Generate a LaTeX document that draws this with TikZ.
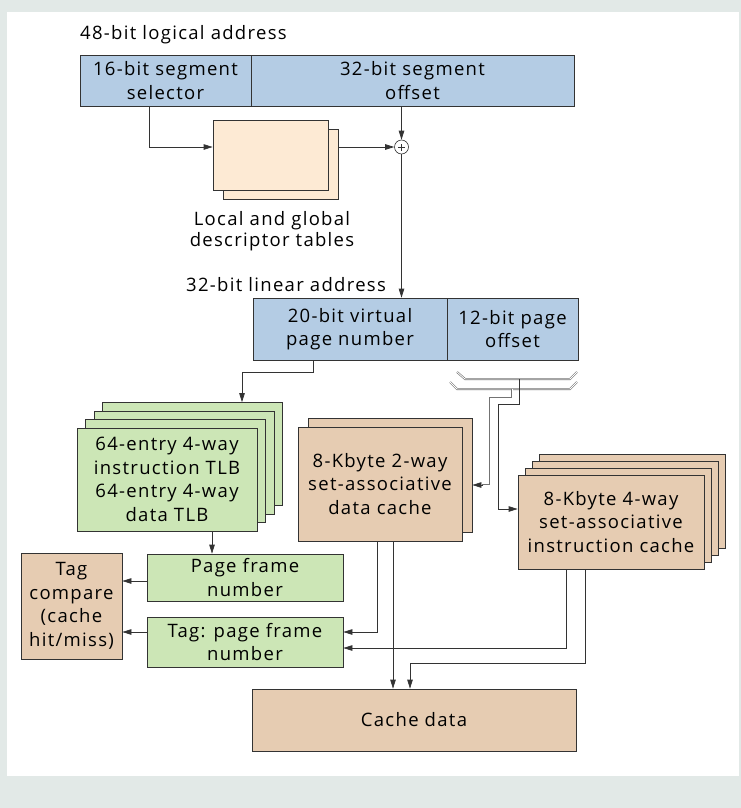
\documentclass[tikz,border=0pt]{standalone}
\usepackage{fontspec}
\setmainfont{Open Sans}[LetterSpace=7]
\usetikzlibrary{arrows.meta}
\definecolor{addrblue}{RGB}{180,204,228}
\definecolor{tlbgreen}{RGB}{204,230,182}
\definecolor{cachetan}{RGB}{230,204,178}
\definecolor{descpeach}{RGB}{253,234,212}
\definecolor{bggrey}{RGB}{226,233,231}
\begin{document}
\begin{tikzpicture}
[x=1pt,y=-1pt,
 >={Triangle[length=9pt,width=5.5pt]},
 box/.style={rectangle,draw=black!80,line width=0.7pt,inner sep=0pt,align=center,font=\fontsize{18.5}{23.5}\selectfont},
 addr/.style={box,fill=addrblue},
 tlbbox/.style={box,fill=tlbgreen},
 cachebox/.style={box,fill=cachetan},
 descbox/.style={box,fill=descpeach,minimum width=115,minimum height=70},
 wire/.style={draw=black!80,line width=0.7pt},
 bus/.style={draw=black!55,double=white,double distance=0.8pt,line width=0.6pt},
 caption/.style={font=\fontsize{18.5}{21}\selectfont,inner sep=0pt,align=center},
 adder/.style={circle,draw=black!80,fill=white,line width=0.6pt,minimum size=14,inner sep=0pt,
   path picture={\draw[line width=0.5pt] ([xshift=-3.5pt]path picture bounding box.center) -- ([xshift=3.5pt]path picture bounding box.center);
                 \draw[line width=0.5pt] ([yshift=-3.5pt]path picture bounding box.center) -- ([yshift=3.5pt]path picture bounding box.center);}}]

% frame
\fill[bggrey] (0,0) rectangle (741,808);
\fill[white] (7,12) rectangle (739,776);

% logical address
\node[caption,anchor=base west] (logl) at (80,40) {48-bit logical address};
\node[addr,minimum width=171,minimum height=51] (sel) at (165.5,80.5) {16-bit segment\\selector};
\node[addr,minimum width=323,minimum height=51] (off) at (412.5,80.5) {32-bit segment\\offset};

% descriptor tables
\foreach \k / \n in {1/dtb,0/dtf}
  \node[descbox,shift={(10*\k,9*\k)}] (\n) at (270.5,155) {};
\node[caption] (dtl) at (272,231) {Local and global\\descriptor tables};
\node[adder] (add) at (401.5,147) {};

% linear address
\node[caption,anchor=base west] (linl) at (186,291) {32-bit linear address};
\node[addr,minimum width=194,minimum height=62] (vpn) at (350,329) {20-bit virtual\\page number};
\node[addr,minimum width=131,minimum height=62] (pgo) at (512.5,329) {12-bit page\\offset};

% TLBs
\foreach \k in {3,2,1}
  \node[tlbbox,minimum width=180,minimum height=103] (tlb\k) at (167+8.5*\k,479.5-8.5*\k) {};
\node[tlbbox,minimum width=180,minimum height=103] (tlb0) at (167,479.5)
  {64-entry 4-way\\instruction TLB\\64-entry 4-way\\data TLB};
\node[tlbbox,minimum width=196,minimum height=47] (pfn) at (245,577.5) {Page frame\\number};
\node[tlbbox,minimum width=196,minimum height=50] (tag) at (245,642) {Tag: page frame\\number};
\node[cachebox,minimum width=101,minimum height=106] (cmp) at (71.5,606) {Tag\\compare\\(cache\\hit/miss)};

% caches
\node[cachebox,minimum width=164,minimum height=114] (dc1) at (390,475) {};
\node[cachebox,minimum width=164,minimum height=114] (dc0) at (380,484) {8-Kbyte 2-way\\set-associative\\data cache};
\foreach \k in {3,2,1}
  \node[cachebox,minimum width=186,minimum height=94] (ic\k) at (611+7*\k,522-7*\k) {};
\node[cachebox,minimum width=186,minimum height=94] (ic0) at (611,522) {8-Kbyte 4-way\\set-associative\\instruction cache};
\node[cachebox,minimum width=324,minimum height=62] (cd) at (414,720) {Cache data};

% segmentation
\draw[wire,->] ([xshift=-16.5]sel.south) |- ([yshift=8]dtf.west);
\draw[wire,->] (dtb.east |- add) -- (add);
\draw[wire,->] (add |- off.south) -- (add);
\draw[wire,->] (add) -- (add |- vpn.north);

% paging
\draw[wire,->] ([xshift=-37]vpn.south) -- ++(0,12) -| ([xshift=49.5]tlb3.north);
\draw[wire,->] ([xshift=45]tlb0.south) -- ([xshift=45]tlb0.south |- pfn.north);
\draw[wire,->] ([yshift=-3.5]pfn.west) -- ([yshift=-3.5]pfn.west -| cmp.east);
\draw[wire,->] ([yshift=10]tag.west) -- ([yshift=10]tag.west -| cmp.east);

% page offset buses
\coordinate (busA) at (519,379);
\coordinate (busB) at (512,389);
\draw[bus] (457,372) -- (465,379) -- (570,379) -- (577,372);
\draw[bus] (450,382) -- (457,389) -- (570,389) -- (577,382);
\draw[wire,->] (busA) -- ++(0,25) -- ++(-21,0) |- ([yshift=13]ic0.west);
\draw[bus] (busB) -- ++(0,9) -- ++(-22,0) |- ([xshift=10,yshift=-10]dc1.east);
\draw[wire,->] ([xshift=11,yshift=-10]dc1.east) -- ([yshift=-10]dc1.east);

% cache outputs
\draw[wire,->] ([xshift=-3]dc0.south) |- ([yshift=10]tag.east);
\draw[wire,->] ([xshift=13]dc0.south) -- ([xshift=13]dc0.south |- cd.north);
\draw[wire,->] ([xshift=-45]ic0.south) |- ([yshift=-6]tag.east);
\draw[wire,->] ([xshift=-26]ic0.south) -- ++(0,94) -| ([xshift=-4]cd.north);
\end{tikzpicture}
\end{document}
